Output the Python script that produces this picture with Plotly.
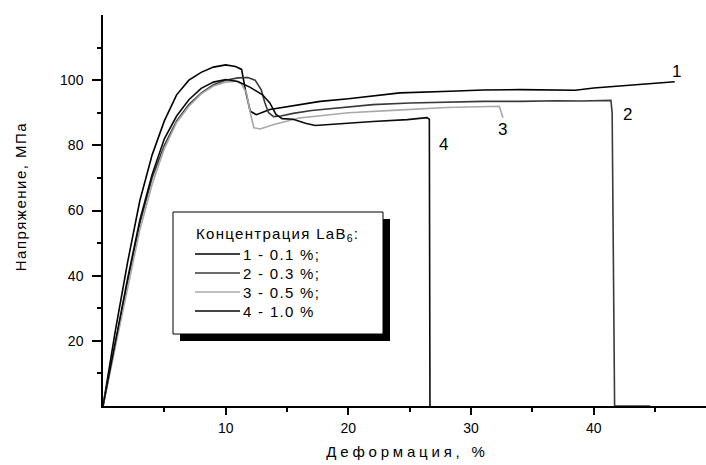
import plotly.graph_objects as go

# ---------------- data ----------------
x1 = [0, 0.5, 1, 2, 3, 4, 5, 6, 7, 8, 9, 10, 10.8, 11.3, 11.6, 12.0, 12.5, 13.6, 16, 17.7, 20, 22, 24.2, 28.3, 31, 34, 36, 38.5, 40, 43, 46.6]
y1 = [0, 12, 23, 44, 63, 77, 87.5, 95.5, 100, 102.4, 104, 104.7, 104.2, 103.3, 97, 90.5, 89.4, 91, 92.5, 93.5, 94.3, 95.2, 96.1, 96.6, 97, 97.1, 97.1, 96.9, 97.6, 98.5, 99.5]

x2 = [0, 0.5, 1, 2, 3, 4, 5, 6, 7, 8, 9, 10, 11, 11.8, 12.4, 12.9, 13.2, 13.5, 13.9, 14.5, 15.5, 17, 19, 22, 25, 28, 31, 34, 37, 39, 41.4, 41.5, 41.7, 44.6]
y2 = [0, 9, 19, 38, 56, 70, 80, 87.5, 92.5, 96, 98.6, 100, 100.7, 100.8, 100, 97, 93, 90, 88.8, 89, 89.8, 90.7, 91.5, 92.5, 93, 93.3, 93.5, 93.5, 93.7, 93.6, 93.8, 90, 0, 0]

x3 = [0, 1, 2, 3, 4, 5, 6, 7, 8, 9, 10, 10.8, 11.3, 11.7, 12.0, 12.3, 12.8, 14, 16, 18, 20, 24, 28, 32.3, 32.5, 32.6]
y3 = [0, 18, 36, 54, 68, 79, 87, 92, 95.8, 98.2, 99.4, 99.7, 98.8, 96, 90, 85.4, 85, 86.5, 88.4, 89.3, 90, 90.8, 91.6, 92, 90, 88.5]

x4 = [0, 0.5, 1, 2, 3, 4, 5, 6, 7, 8, 9, 10, 11, 12, 13, 13.6, 14.1, 14.6, 15.5, 16.5, 17.3, 19, 22, 24.8, 26.4, 26.6, 26.65]
y4 = [0, 10, 20, 39, 57, 71, 82, 89, 94, 97.5, 99.4, 100.2, 99.6, 97.8, 95.5, 93, 89.5, 88.2, 88, 86.8, 86.1, 86.6, 87.3, 87.9, 88.5, 88, 0]

series_names = ["1 - 0.1 %;", "2 - 0.3 %;", "3 - 0.5 %;", "4 - 1.0 %"]
curve_labels = ["1", "2", "3", "4"]
x_ticks = [10, 20, 30, 40]
y_ticks = [20, 40, 60, 80, 100]
legend_title = "Концентрация LaB<sub>6</sub>:"
x_title = "Деформация, %"
y_title = "Напряжение, МПа"

# ---------------- styling ----------------
colors = ["#000000", "#3a3a3a", "#a8a8a8", "#0a0a0a"]
FONT = "Arial, 'Liberation Sans', sans-serif"
W, H = 706, 465
L, R, T, B = 103, 0, 15, 59
PW, PH = W - L - R, H - T - B


def px(xp):
    return (xp - L) / PW


def py(yp):
    return (H - B - yp) / PH


fig = go.Figure()
for xs, ys, c, n in zip([x1, x2, x3, x4], [y1, y2, y3, y4], colors, series_names):
    fig.add_trace(go.Scatter(x=xs, y=ys, mode="lines", name=n,
                             line=dict(color=c, width=1.6), showlegend=False))

shapes = []
# legend shadow and box
shapes.append(dict(type="rect", xref="paper", yref="paper",
                   x0=px(180), x1=px(390), y0=py(341), y1=py(219),
                   fillcolor="black", line=dict(width=0), layer="above"))
shapes.append(dict(type="rect", xref="paper", yref="paper",
                   x0=px(173), x1=px(383), y0=py(334), y1=py(212),
                   fillcolor="white", line=dict(color="black", width=1), layer="above"))
rows = [254, 273, 292, 311]
annotations = []
for r, c, n in zip(rows, colors, series_names):
    shapes.append(dict(type="line", xref="paper", yref="paper",
                       x0=px(195), x1=px(240), y0=py(r), y1=py(r),
                       line=dict(color=c, width=1.6), layer="above"))
    annotations.append(dict(xref="paper", yref="paper", x=px(241), y=py(r),
                            text=n, showarrow=False, xanchor="left", yanchor="middle",
                            font=dict(family=FONT, size=15, color="black")))
annotations.append(dict(xref="paper", yref="paper", x=px(194), y=py(234),
                        text=legend_title, showarrow=False, xanchor="left", yanchor="middle",
                        font=dict(family=FONT, size=15, color="black")))

# curve labels
label_pos = [(676, 71), (627, 115), (502, 129), (443, 145)]
for t, (lx, ly) in zip(curve_labels, label_pos):
    annotations.append(dict(xref="paper", yref="paper", x=px(lx), y=py(ly),
                            text=t, showarrow=False, xanchor="center", yanchor="middle",
                            font=dict(family=FONT, size=17, color="black")))

# axis titles
annotations.append(dict(xref="paper", yref="paper", x=px(407), y=py(451),
                        text=x_title, showarrow=False, xanchor="center", yanchor="middle",
                        font=dict(family=FONT, size=15, color="black")))
annotations.append(dict(xref="paper", yref="paper", x=px(20), y=py(196),
                        text=y_title, showarrow=False, xanchor="center", yanchor="middle",
                        textangle=-90,
                        font=dict(family=FONT, size=15, color="black")))

fig.update_layout(
    width=W, height=H,
    margin=dict(l=L, r=R, t=T, b=B, pad=0),
    paper_bgcolor="white", plot_bgcolor="white",
    shapes=shapes, annotations=annotations,
    font=dict(family=FONT, size=14, color="black"),
)
fig.update_xaxes(range=[0, 49.15], showgrid=False, zeroline=False,
                 showline=True, linecolor="black", linewidth=1.5,
                 tickmode="array", tickvals=x_ticks, ticks="outside", ticklen=7,
                 tickwidth=1.5, tickcolor="black", ticklabelstandoff=1,
                 tickfont=dict(family=FONT, size=14, color="black"),
                 minor=dict(tickvals=[5, 15, 25, 35, 45], ticks="outside", ticklen=4,
                            tickwidth=1.5, tickcolor="black"))
fig.update_yaxes(range=[0, 120], showgrid=False, zeroline=False,
                 showline=True, linecolor="black", linewidth=1.5,
                 tickmode="array", tickvals=y_ticks, ticks="outside", ticklen=9,
                 tickwidth=1.5, tickcolor="black", ticklabelstandoff=6,
                 tickfont=dict(family=FONT, size=14, color="black"),
                 minor=dict(tickvals=[10, 30, 50, 70, 90, 110], ticks="outside", ticklen=4,
                            tickwidth=1.5, tickcolor="black"))

post = """
document.body.style.margin = '0';
document.body.style.padding = '0';
document.documentElement.style.margin = '0';
function spread(e, sp, keepLeft) {
  var w0 = e.getComputedTextLength();
  e.style.letterSpacing = sp;
  var w1 = e.getComputedTextLength();
  if (keepLeft) {
    var dx = (w1 - w0) / 2;
    var tr = e.getAttribute('transform') || '';
    e.setAttribute('transform', 'translate(' + dx + ',0) ' + tr);
  }
}
document.querySelectorAll('.annotation-text').forEach(function(e){
  var t = e.textContent || '';
  if (t.indexOf('Деформация') === 0) { spread(e, '3.8px', false); }
  else if (t.indexOf('Напряжение') === 0) { spread(e, '1.5px', false); }
  else if (t.indexOf('Концентрация') === 0 || / - /.test(t)) { spread(e, '1.3px', true); }
});
"""
fig.write_html("out.html", post_script=post, config={"displayModeBar": False})
